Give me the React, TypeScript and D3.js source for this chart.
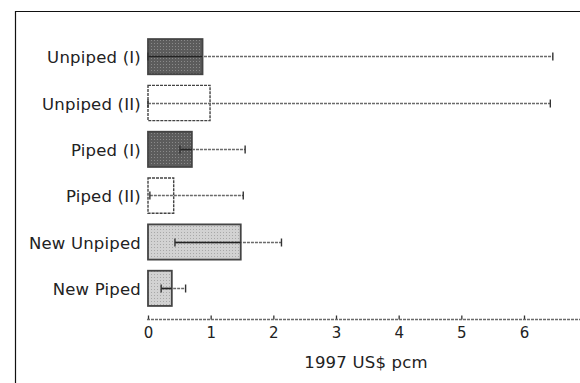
import { useEffect, useRef } from 'react';
import * as d3 from 'd3';

// Cost components, 1997 US$ per cubic metre
const categories = ['Unpiped (I)', 'Unpiped (II)', 'Piped (I)', 'Piped (II)', 'New Unpiped', 'New Piped'];
const means = [0.87, 0.99, 0.7, 0.41, 1.48, 0.38];
const lows = [0.0, 0.0, 0.51, 0.03, 0.43, 0.21];
const highs = [6.46, 6.42, 1.55, 1.52, 2.13, 0.6];
const fillKinds = ['dark', 'white', 'dark', 'white', 'light', 'light'];
const xTicks = [0, 1, 2, 3, 4, 5, 6];
const xTitle = '1997 US$ pcm';

const W = 580;
const H = 383;
const font = '"DejaVu Sans", sans-serif';

const App = () => {
    const svgRef = useRef<SVGSVGElement>(null);

    useEffect(() => {
        const root = d3.select(svgRef.current);
        root.selectAll('*').remove();

        const x = d3.scaleLinear().domain([0, 6]).range([148, 524]);
        const y = d3
            .scaleBand()
            .domain(categories)
            .range([33, 311])
            .paddingInner(0.24)
            .paddingOuter(0.12);

        const defs = root.append('defs');
        // dotted textures for the shaded bars
        const addPattern = (id: string, bg: string, dot: string) => {
            const p = defs
                .append('pattern')
                .attr('id', id)
                .attr('width', 3)
                .attr('height', 3)
                .attr('patternUnits', 'userSpaceOnUse');
            p.append('rect').attr('width', 3).attr('height', 3).attr('fill', bg);
            p.append('rect').attr('x', 1).attr('y', 1).attr('width', 1).attr('height', 1).attr('fill', dot);
        };
        addPattern('dark', '#5c5c5c', '#8a8a8a');
        addPattern('light', '#d2d2d2', '#a8a8a8');

        const fillFor = (k: string) => (k === 'white' ? '#ffffff' : `url(#${k})`);

        // frame
        root.append('path')
            .attr('d', `M15.5,${H} V11.5 H${W}`)
            .attr('fill', 'none')
            .attr('stroke', '#111')
            .attr('stroke-width', 1.2);

        const g = root.append('g');

        const rows = categories.map((c, i) => ({
            c,
            mean: means[i],
            lo: lows[i],
            hi: highs[i],
            kind: fillKinds[i],
        }));

        g.selectAll('rect.bar')
            .data(rows)
            .join('rect')
            .attr('class', 'bar')
            .attr('x', x(0))
            .attr('y', d => (y(d.c) ?? 0) + 0.5)
            .attr('width', d => x(d.mean) - x(0))
            .attr('height', y.bandwidth())
            .attr('fill', d => fillFor(d.kind))
            .attr('stroke', '#444')
            .attr('stroke-width', d => (d.kind === 'white' ? 1.4 : 1.8))
            .attr('stroke-dasharray', d => (d.kind === 'white' ? '3,1' : null));

        const cy = (c: string) => Math.round((y(c) ?? 0) + y.bandwidth() / 2) + 0.5;

        // whiskers
        g.selectAll('line.whisker')
            .data(rows)
            .join('line')
            .attr('class', 'whisker')
            .attr('x1', d => x(d.lo))
            .attr('x2', d => x(d.hi))
            .attr('y1', d => cy(d.c))
            .attr('y2', d => cy(d.c))
            .attr('stroke', '#6a6a6a')
            .attr('stroke-width', 1.5)
            .attr('stroke-dasharray', '3,1');

        // part of whisker inside the shaded bar looks solid black
        g.selectAll('line.inner')
            .data(rows.filter(d => d.kind !== 'white' && d.lo < d.mean))
            .join('line')
            .attr('class', 'inner')
            .attr('x1', d => x(d.lo))
            .attr('x2', d => x(d.mean))
            .attr('y1', d => cy(d.c))
            .attr('y2', d => cy(d.c))
            .attr('stroke', '#222')
            .attr('stroke-width', 1.6);

        const caps = rows.flatMap(d => [
            { c: d.c, v: d.lo },
            { c: d.c, v: d.hi },
        ]);
        g.selectAll('line.cap')
            .data(caps)
            .join('line')
            .attr('class', 'cap')
            .attr('x1', d => x(d.v))
            .attr('x2', d => x(d.v))
            .attr('y1', d => cy(d.c) - 4)
            .attr('y2', d => cy(d.c) + 4)
            .attr('stroke', '#333')
            .attr('stroke-width', 1.4);

        // category labels
        g.selectAll('text.cat')
            .data(categories)
            .join('text')
            .attr('class', 'cat')
            .attr('x', 141)
            .attr('y', d => cy(d) + 6)
            .attr('text-anchor', 'end')
            .attr('font-family', font)
            .attr('font-size', 16.5)
            .attr('letter-spacing', 0.2)
            .attr('fill', '#222')
            .text(d => d);

        // x axis
        const axisY = 319.5;
        const axis = d3
            .axisBottom(x)
            .tickValues(xTicks)
            .tickSize(0)
            .tickPadding(8)
            .tickFormat(d3.format('d'));
        const ax = root.append('g').attr('transform', `translate(0,${axisY})`).call(axis);
        ax.select('.domain').remove();
        ax.append('line')
            .attr('x1', x(0) - 1)
            .attr('x2', W)
            .attr('stroke', '#6a6a6a')
            .attr('stroke-width', 1.4)
            .attr('stroke-dasharray', '3,1');
        ax.selectAll('.tick')
            .append('line')
            .attr('y1', -4)
            .attr('y2', 0)
            .attr('stroke', '#333')
            .attr('stroke-width', 1.3);
        ax.selectAll('text')
            .attr('font-family', font)
            .attr('font-size', 15)
            .attr('fill', '#222');

        root.append('text')
            .attr('x', 366)
            .attr('y', 368)
            .attr('text-anchor', 'middle')
            .attr('font-family', font)
            .attr('font-size', 16.5)
            .attr('letter-spacing', 0.2)
            .attr('fill', '#222')
            .text(xTitle);
    }, []);

    return (
        <div style={{ position: 'absolute', left: 0, top: 0 }}>
            <svg ref={svgRef} width={W} height={H} style={{ display: 'block', background: '#fff' }}></svg>
        </div>
    );
};

export default App;
